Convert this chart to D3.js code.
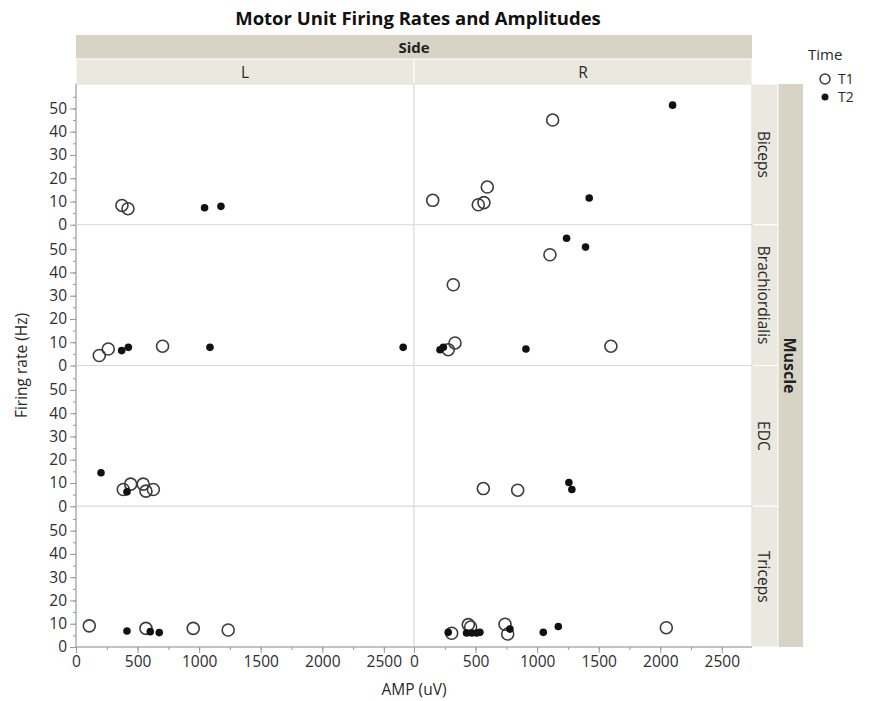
<!DOCTYPE html>
<html>
<head>
<meta charset="utf-8">
<script src="https://cdn.jsdelivr.net/npm/d3@7"></script>
<style>
  body { margin: 0; background: #fff; }
  text { font-family: "Open Sans", "Noto Sans", sans-serif; fill: #2a2a2a; }
  .tick text { font-size: 15.5px; fill: #2e2e2e; }
  .axis path, .axis line { stroke: #9a9a9a; }
</style>
</head>
<body>
<div id="chart"></div>
<script>
// categories
var muscles = ["Biceps", "Brachiordialis", "EDC", "Triceps"];
var sides = ["L", "R"];
var times = ["T1", "T2"];
var xTicks = [0, 500, 1000, 1500, 2000, 2500];
var yTicks = [0, 10, 20, 30, 40, 50];

// points: [AMP (uV), firing rate (Hz), time]
var bicepsL = [[373, 8.3, "T1"], [422, 6.9, "T1"], [1044, 7.3, "T2"], [1177, 7.9, "T2"]];
var bicepsR = [[152, 10.5, "T1"], [522, 8.6, "T1"], [568, 9.5, "T1"], [595, 16.2, "T1"],
               [1126, 45, "T1"], [1423, 11.5, "T2"], [2100, 51.4, "T2"]];
var brachioL = [[189, 4.3, "T1"], [262, 7.1, "T1"], [371, 6.4, "T2"], [425, 7.8, "T2"],
                [703, 8.3, "T1"], [1088, 7.8, "T2"], [2657, 7.8, "T2"]];
var brachioR = [[211, 6.8, "T2"], [238, 7.8, "T2"], [278, 6.8, "T1"], [333, 9.7, "T1"],
                [319, 34.7, "T1"], [909, 7.1, "T2"], [1104, 47.6, "T1"], [1239, 54.7, "T2"],
                [1393, 50.9, "T2"], [1599, 8.3, "T1"]];
var edcL = [[203, 14.4, "T2"], [384, 7.2, "T1"], [444, 9.5, "T1"], [546, 9.5, "T1"],
            [568, 6.5, "T1"], [628, 7.2, "T1"], [414, 6.2, "T2"]];
var edcR = [[563, 7.6, "T1"], [842, 6.9, "T1"], [1258, 10.2, "T2"], [1282, 7.2, "T2"]];
var tricepsL = [[108, 9.1, "T1"], [414, 6.9, "T2"], [568, 8.0, "T1"], [603, 6.6, "T2"],
                [676, 6.2, "T2"], [952, 8.0, "T1"], [1236, 7.3, "T1"]];
var tricepsR = [[306, 5.9, "T1"], [441, 9.6, "T1"], [460, 8.6, "T1"], [739, 9.8, "T1"],
                [761, 5.6, "T1"], [2049, 8.3, "T1"], [278, 6.3, "T2"], [427, 6.0, "T2"],
                [468, 6.0, "T2"], [508, 6.0, "T2"], [535, 6.3, "T2"], [779, 7.7, "T2"],
                [1050, 6.3, "T2"], [1172, 8.8, "T2"]];

var panels = [[bicepsL, bicepsR], [brachioL, brachioR], [edcL, edcR], [tricepsL, tricepsR]];

// layout
var W = 871, H = 701;
var pLeft = 76, pTop = 84, cellW = 338, cellH = 140.75;
var plotW = cellW * 2, plotH = cellH * 4;
var darkStrip = "#d7d4c5", lightStrip = "#eae8df";

var x = d3.scaleLinear().domain([0, 2745]).range([0, cellW]);
var y = d3.scaleLinear().domain([0, 60.5]).range([cellH, 0]);

var svg = d3.select("#chart").append("svg")
    .attr("width", W)
    .attr("height", H);

// title
svg.append("text")
    .attr("x", 418).attr("y", 25)
    .attr("text-anchor", "middle")
    .style("font-size", "18.5px").style("font-weight", "bold").style("fill", "#111")
    .text("Motor Unit Firing Rates and Amplitudes");

// column headers
svg.append("rect").attr("x", pLeft).attr("y", 35).attr("width", plotW).attr("height", 24)
    .attr("fill", darkStrip);
svg.append("text").attr("x", pLeft + plotW / 2).attr("y", 53).attr("text-anchor", "middle")
    .style("font-size", "15px").style("font-weight", "bold").style("fill", "#222").text("Side");
sides.forEach(function(s, i) {
    svg.append("rect").attr("x", pLeft + i * cellW).attr("y", 59).attr("width", cellW).attr("height", 25)
        .attr("fill", lightStrip).attr("stroke", "#fff").attr("stroke-width", 1);
    svg.append("text").attr("x", pLeft + i * cellW + cellW / 2).attr("y", 78).attr("text-anchor", "middle")
        .style("font-size", "15.5px").text(s);
});

// row strips
svg.append("rect").attr("x", pLeft + plotW + 26).attr("y", pTop).attr("width", 25).attr("height", plotH)
    .attr("fill", darkStrip);
svg.append("text")
    .attr("transform", "translate(" + (pLeft + plotW + 32) + "," + (pTop + plotH / 2) + ") rotate(90)")
    .attr("text-anchor", "middle")
    .style("font-size", "16px").style("font-weight", "bold").style("fill", "#222").text("Muscle");
muscles.forEach(function(m, j) {
    svg.append("rect").attr("x", pLeft + plotW).attr("y", pTop + j * cellH).attr("width", 26).attr("height", cellH)
        .attr("fill", lightStrip).attr("stroke", "#fff").attr("stroke-width", 1);
    svg.append("text")
        .attr("transform", "translate(" + (pLeft + plotW + 6) + "," + (pTop + j * cellH + cellH / 2) + ") rotate(90)")
        .attr("text-anchor", "middle")
        .style("font-size", "15.5px").text(m);
});

// panels
panels.forEach(function(row, j) {
    row.forEach(function(pts, i) {
        var g = svg.append("g")
            .attr("transform", "translate(" + (pLeft + i * cellW) + "," + (pTop + j * cellH) + ")");

        g.append("rect").attr("width", cellW).attr("height", cellH)
            .attr("fill", "#fff").attr("stroke", "#d9d9d9").attr("stroke-width", 1);

        g.selectAll(".t1").data(pts.filter(function(d) { return d[2] === "T1"; }))
            .enter().append("circle")
            .attr("cx", function(d) { return x(d[0]); })
            .attr("cy", function(d) { return y(d[1]); })
            .attr("r", 6)
            .attr("fill", "none").attr("stroke", "#3c3c3c").attr("stroke-width", 1.6);

        g.selectAll(".t2").data(pts.filter(function(d) { return d[2] === "T2"; }))
            .enter().append("circle")
            .attr("cx", function(d) { return x(d[0]); })
            .attr("cy", function(d) { return y(d[1]); })
            .attr("r", 3.8)
            .attr("fill", "#111");
    });

    // Y axis for each row (minor then major ticks)
    var ga = svg.append("g").attr("class", "axis")
        .attr("transform", "translate(" + pLeft + "," + (pTop + j * cellH) + ")");
    ga.call(d3.axisLeft(y).tickValues(d3.range(0, 60, 5)).tickSize(3).tickFormat(""));
    ga.select(".domain").remove();
    var gb = svg.append("g").attr("class", "axis")
        .attr("transform", "translate(" + pLeft + "," + (pTop + j * cellH) + ")");
    gb.call(d3.axisLeft(y).tickValues(yTicks).tickSize(6).tickPadding(3));
    gb.select(".domain").attr("d", "M0," + cellH + "V0");
});

// X axes
sides.forEach(function(s, i) {
    var gx = svg.append("g").attr("class", "axis")
        .attr("transform", "translate(" + (pLeft + i * cellW) + "," + (pTop + plotH) + ")");
    gx.call(d3.axisBottom(x).tickValues(d3.range(0, 2750, 250)).tickSize(3).tickFormat(""));
    gx.select(".domain").remove();
    var gx2 = svg.append("g").attr("class", "axis")
        .attr("transform", "translate(" + (pLeft + i * cellW) + "," + (pTop + plotH) + ")");
    gx2.call(d3.axisBottom(x).tickValues(xTicks).tickSize(6).tickPadding(3).tickFormat(d3.format("d")));
    gx2.select(".domain").attr("d", "M0,0H" + cellW);
});

// axis labels
svg.append("text")
    .attr("x", pLeft + plotW / 2).attr("y", 695).attr("text-anchor", "middle")
    .style("font-size", "15.5px").text("AMP (uV)");
svg.append("text")
    .attr("transform", "translate(27," + (pTop + plotH / 2) + ") rotate(-90)")
    .attr("text-anchor", "middle")
    .style("font-size", "15.5px").text("Firing rate (Hz)");

// legend
var lg = svg.append("g").attr("transform", "translate(808,0)");
lg.append("text").attr("x", 0).attr("y", 60).style("font-size", "15px").text("Time");
times.forEach(function(t, k) {
    var cy = 79 + k * 18;
    if (k === 0) {
        lg.append("circle").attr("cx", 17).attr("cy", cy).attr("r", 5)
            .attr("fill", "none").attr("stroke", "#3c3c3c").attr("stroke-width", 1.5);
    } else {
        lg.append("circle").attr("cx", 17).attr("cy", cy).attr("r", 3.5).attr("fill", "#111");
    }
    lg.append("text").attr("x", 30).attr("y", cy + 5).style("font-size", "14px").text(t);
});
</script>
</body>
</html>
